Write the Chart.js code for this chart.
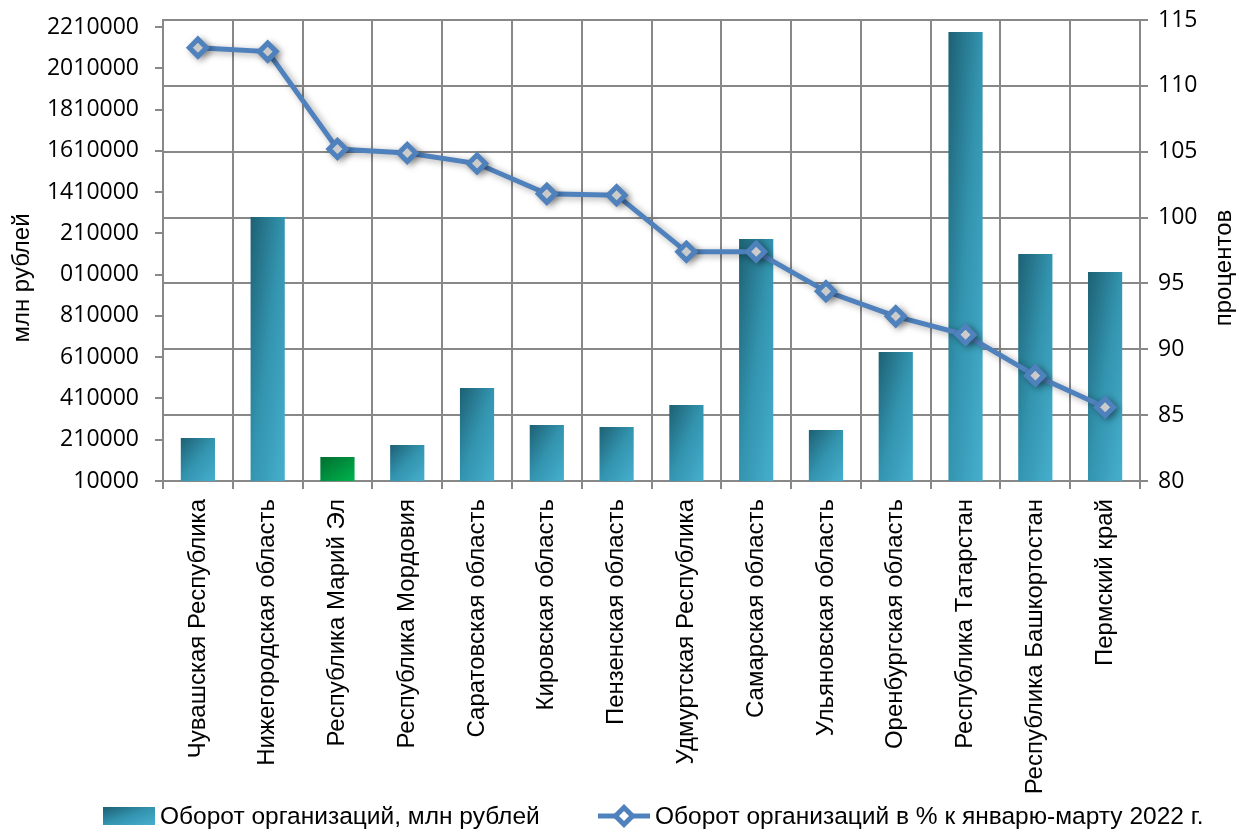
<!DOCTYPE html>
<html lang="ru">
<head>
<meta charset="utf-8">
<title>Оборот организаций</title>
<script src="https://cdn.jsdelivr.net/npm/chart.js@4.4.3/dist/chart.umd.min.js"></script>
<style>
  html, body { margin: 0; padding: 0; background: #fff; }
  #wrap { width: 1239px; height: 832px; }
</style>
</head>
<body>
<div id="wrap"><canvas id="chart"></canvas></div>
<script>
const regions = [
  "Чувашская Республика", "Нижегородская область", "Республика Марий Эл",
  "Республика Мордовия", "Саратовская область", "Кировская область",
  "Пензенская область", "Удмуртская Республика", "Самарская область",
  "Ульяновская область", "Оренбургская область", "Республика Татарстан",
  "Республика Башкортостан", "Пермский край"
];
// оборот, млн рублей
const turnover = [218000, 1289000, 126000, 184000, 461000, 281000, 272000, 378000, 1183000, 257000, 635000, 2186000, 1110000, 1023000];
// в % к январю-марту 2022 г.
const turnoverPct = [112.9, 112.6, 105.2, 104.9, 104.1, 101.8, 101.7, 97.4, 97.4, 94.4, 92.5, 91.1, 88.0, 85.6];

const turnoverTicks = [10000, 210000, 410000, 610000, 810000, 1010000, 1210000, 1410000, 1610000, 1810000, 2010000, 2210000];
const turnoverTickLabels = ["10000", "210000", "410000", "610000", "810000", "010000", "210000", "1410000", "1610000", "1810000", "2010000", "2210000"];
const percentTicks = [80, 85, 90, 95, 100, 105, 110, 115];
const highlightRegion = "Республика Марий Эл";

const barLabel = "Оборот организаций, млн рублей";
const lineLabel = "Оборот организаций в % к январю-марту 2022 г.";
const leftTitle = "млн рублей";
const rightTitle = "процентов";

const gridColor = "#888888";
const lineColor = "#4f81bd";
const tealStops = [[0, "#1d6073"], [0.5, "#3394af"], [1, "#46afcd"]];
const greenStops = [[0, "#006e2e"], [1, "#00b44f"]];
const tickFont = { family: "Open Sans", size: 23 };
const textFont = { family: "Liberation Sans", size: 24 };

// diagonal gradient stretched to the bar box, like an office chart fill
function boxGradient(ctx, left, top, right, bottom, stops) {
  const w = right - left, h = bottom - top;
  const k = 2 * w * h / (w * w + h * h);
  const g = ctx.createLinearGradient(left, top, left + h * k, top + w * k);
  stops.forEach(([o, c]) => g.addColorStop(o, c));
  return g;
}

function barFill(c) {
  const chart = c.chart;
  if (!chart.chartArea || c.type !== "data") return tealStops[1][1];
  const x = chart.scales.x, y = chart.scales.y;
  const half = (x.width / regions.length) * 0.49 / 2;
  const cx = x.getPixelForValue(c.dataIndex);
  const top = y.getPixelForValue(turnover[c.dataIndex]);
  const bottom = y.getPixelForValue(y.min);
  const stops = regions[c.dataIndex] === highlightRegion ? greenStops : tealStops;
  return boxGradient(chart.ctx, cx - half, top, cx + half, bottom, stops);
}

const barShadow = {
  id: "barShadow",
  beforeDatasetDraw(chart, args) {
    if (args.index !== 0) return;
    const ctx = chart.ctx;
    ctx.save();
    ctx.shadowColor = "rgba(0,0,0,0.35)";
    ctx.shadowBlur = 7;
    ctx.shadowOffsetX = 3;
    ctx.shadowOffsetY = 2;
  },
  afterDatasetDraw(chart, args) {
    if (args.index === 0) chart.ctx.restore();
  }
};

// both axis titles read bottom-to-top, as in the source chart
const axisTitles = {
  id: "axisTitles",
  afterDraw(chart) {
    const ctx = chart.ctx;
    ctx.save();
    ctx.font = `${textFont.size}px "${textFont.family}"`;
    ctx.fillStyle = "#000";
    ctx.textAlign = "center";
    ctx.textBaseline = "middle";
    [[leftTitle, 22, 278], [rightTitle, 1224, 268]].forEach(([t, x, y]) => {
      ctx.save();
      ctx.translate(x, y);
      ctx.rotate(-Math.PI / 2);
      ctx.fillText(t, 0, 0);
      ctx.restore();
    });
    ctx.restore();
  }
};

const bottomLegend = {
  id: "bottomLegend",
  afterDraw(chart) {
    const ctx = chart.ctx;
    const cy = chart.height - 16;
    ctx.save();
    ctx.font = `24.5px "${textFont.family}"`;
    ctx.textBaseline = "middle";
    ctx.fillStyle = boxGradient(ctx, 103, cy - 9, 155, cy + 9, tealStops);
    ctx.fillRect(103, cy - 9, 52, 18);
    ctx.fillStyle = "#000";
    ctx.fillText(barLabel, 160, cy + 1);

    ctx.strokeStyle = lineColor;
    ctx.lineWidth = 5;
    ctx.beginPath();
    ctx.moveTo(598, cy);
    ctx.lineTo(650, cy);
    ctx.stroke();
    ctx.beginPath();
    ctx.moveTo(624, cy - 8.5);
    ctx.lineTo(632.5, cy);
    ctx.lineTo(624, cy + 8.5);
    ctx.lineTo(615.5, cy);
    ctx.closePath();
    ctx.fillStyle = "#fff";
    ctx.fill();
    ctx.lineWidth = 5;
    ctx.stroke();
    ctx.fillStyle = "#000";
    ctx.fillText(lineLabel, 655, cy + 1);
    ctx.restore();
  }
};

function fixedWidth(w) {
  return (scale) => {
    scale.width = w;
    scale.paddingTop = 0;
    scale.paddingBottom = 0;
  };
}

new Chart(document.getElementById("chart"), {
  data: {
    labels: regions,
    datasets: [
      {
        type: "line",
        label: lineLabel,
        data: turnoverPct,
        yAxisID: "y1",
        order: 0,
        borderColor: lineColor,
        borderWidth: 5,
        pointStyle: "rectRot",
        pointRadius: 8.5,
        pointBorderWidth: 5,
        pointBackgroundColor: "#fff",
        pointBorderColor: lineColor,
      },
      {
        type: "bar",
        label: barLabel,
        data: turnover,
        yAxisID: "y",
        order: 1,
        backgroundColor: barFill,
        categoryPercentage: 1,
        barPercentage: 0.49,
      },
    ],
  },
  options: {
    responsive: true,
    maintainAspectRatio: false,
    animation: false,
    layout: { padding: { top: 20, right: 0, bottom: 31, left: 0 } },
    plugins: {
      legend: { display: false },
      tooltip: { enabled: false },
    },
    scales: {
      x: {
        grid: { offset: true, color: gridColor, lineWidth: 2, tickLength: 8 },
        border: { color: gridColor, width: 2 },
        ticks: { color: "#000", font: textFont, minRotation: 90, maxRotation: 90, autoSkip: false, padding: 10 },
        afterFit(scale) {
          scale.height = 320;
          scale.paddingLeft = 0;
          scale.paddingRight = 0;
        },
      },
      y: {
        position: "left",
        min: 10000,
        max: 2244000,
        afterBuildTicks(scale) { scale.ticks = turnoverTicks.map((v) => ({ value: v })); },
        grid: { drawOnChartArea: false, color: gridColor, lineWidth: 2, tickLength: 8 },
        border: { color: gridColor, width: 2 },
        ticks: {
          color: "#000",
          font: tickFont,
          padding: 16,
          callback: (v) => turnoverTickLabels[turnoverTicks.indexOf(v)],
        },
        afterFit: fixedWidth(163),
      },
      y1: {
        position: "right",
        min: 80,
        max: 115,
        afterBuildTicks(scale) { scale.ticks = percentTicks.map((v) => ({ value: v })); },
        grid: { color: gridColor, lineWidth: 2, tickLength: 8 },
        border: { color: gridColor, width: 2 },
        ticks: { color: "#000", font: tickFont, padding: 10 },
        afterFit: fixedWidth(99),
      },
    },
  },
  plugins: [barShadow, axisTitles, bottomLegend],
});
</script>
</body>
</html>
